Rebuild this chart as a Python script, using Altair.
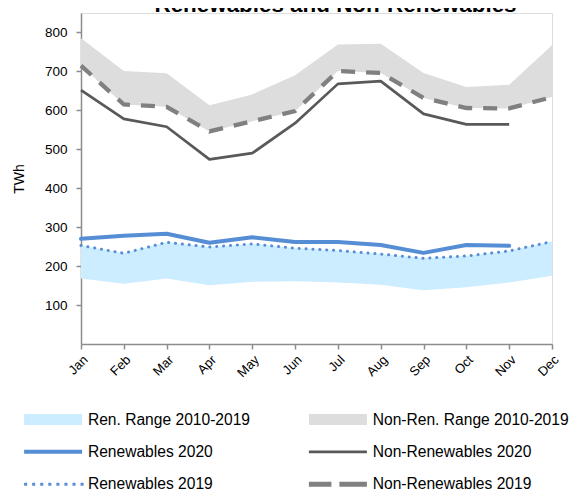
import altair as alt
import pandas as pd

months = ["Jan", "Feb", "Mar", "Apr", "May", "Jun", "Jul", "Aug", "Sep", "Oct", "Nov", "Dec"]

ren_range_low = [168, 155, 168, 151, 160, 161, 158, 152, 138, 146, 158, 175]
ren_range_high = [253, 233, 261, 249, 257, 246, 240, 231, 220, 226, 239, 263]
nonren_range_low = [715, 615, 609, 546, 572, 598, 701, 696, 632, 606, 605, 634]
nonren_range_high = [785, 701, 695, 613, 641, 690, 769, 771, 696, 660, 666, 767]

ren_2020 = [270, 278, 283, 260, 274, 262, 262, 254, 234, 254, 252, None]
ren_2019 = [253, 233, 261, 249, 257, 246, 240, 231, 220, 226, 239, 263]
nonren_2020 = [652, 578, 558, 474, 490, 567, 668, 675, 591, 564, 564, None]
nonren_2019 = [715, 615, 609, 546, 572, 598, 701, 696, 632, 606, 605, 634]

# legend order (column-major: renewables column, then non-renewables column)
series_names = [
    "Ren. Range 2010-2019",
    "Renewables 2020",
    "Renewables 2019",
    "Non-Ren. Range 2010-2019",
    "Non-Renewables 2020",
    "Non-Renewables 2019",
]
series_colors = ["#CCECFF", "#558ED5", "#558ED5", "#DDDDDD", "#595959", "#808080"]

FONT = "Liberation Sans"


def range_df(name, low, high):
    return pd.DataFrame({"month": months, "low": low, "high": high, "series": name})


def line_df(name, vals):
    return pd.DataFrame({"month": months, "value": vals, "series": name})


# ---- legend symbol shapes (custom paths, unit = sqrt(size)/2 px) ----
SYM_SIZE = 121
R = (SYM_SIZE ** 0.5) / 2


def rect(x0, x1, y0, y1):
    return f"M{x0/R:.3f},{y0/R:.3f}H{x1/R:.3f}V{y1/R:.3f}H{x0/R:.3f}Z"


dot_centers = [-27.5 + k * 8.07 for k in range(8)]
shapes = [
    rect(-29, 29, -5.5, 5.5),
    rect(-29, 29, -2, 2),
    "".join(rect(c - 1.5, c + 1.5, -1.5, 1.5) for c in dot_centers),
    rect(-29, 29, -5.5, 5.5),
    rect(-29, 29, -1.4, 1.4),
    rect(-29, -6.5, -2.5, 2.5) + rect(1.5, 29, -2.5, 2.5),
]


def pick(values):
    expr = f"'{values[-1]}'"
    for name, val in reversed(list(zip(series_names[:-1], values[:-1]))):
        expr = f"datum.label === '{name}' ? '{val}' : ({expr})"
    return expr


legend_encode = {
    "symbols": {
        "update": {
            "shape": {"signal": pick(shapes)},
            "fill": {"signal": pick(series_colors)},
            "stroke": {"value": "transparent"},
            "strokeWidth": {"value": 0},
            "opacity": {"value": 1},
        }
    }
}

legend = alt.Legend(
    title=None,
    orient="none",
    legendX=-35.7,
    legendY=398.5,
    columns=2,
    symbolSize=SYM_SIZE,
    symbolStrokeWidth=0,
    labelFont=FONT,
    labelFontSize=15.6,
    labelColor="#000000",
    labelOffset=27,
    labelLimit=400,
    rowPadding=15.5,
    columnPadding=57.8,
)

color_scale = alt.Scale(domain=series_names, range=series_colors)

x_enc = alt.X(
    "month:O",
    sort=months,
    scale=alt.Scale(type="point", padding=0),
    axis=alt.Axis(
        title=None,
        labelAngle=-45,
        labelFont=FONT,
        labelFontSize=13,
        labelColor="#000000",
        labelPadding=4,
        tickSize=5,
        tickColor="#8C8C8C",
        tickWidth=1.5,
        domainColor="#8C8C8C",
        domainWidth=1.5,
    ),
)

y_axis = alt.Axis(
    values=[100, 200, 300, 400, 500, 600, 700, 800],
    title="TWh",
    titleFont=FONT,
    titleFontSize=14,
    titleFontWeight="normal",
    titleColor="#000000",
    titlePadding=18,
    labelFont=FONT,
    labelFontSize=13.5,
    labelColor="#000000",
    labelPadding=9,
    tickSize=5,
    tickColor="#8C8C8C",
    tickWidth=1.5,
    domainColor="#8C8C8C",
    domainWidth=1.5,
    grid=False,
)
y_scale = alt.Scale(domain=[0, 850], nice=False)

ren_area = alt.Chart(range_df(series_names[0], ren_range_low, ren_range_high)).mark_area(opacity=1).encode(
    x=x_enc,
    y=alt.Y("low:Q", scale=y_scale, axis=y_axis),
    y2="high:Q",
    color=alt.Color("series:N", scale=color_scale, legend=legend),
)
nonren_area = alt.Chart(range_df(series_names[3], nonren_range_low, nonren_range_high)).mark_area(opacity=1).encode(
    x=x_enc,
    y=alt.Y("low:Q", scale=y_scale, axis=y_axis),
    y2="high:Q",
    color=alt.Color("series:N", scale=color_scale, legend=legend),
)


def line_layer(name, vals, **mark):
    return alt.Chart(line_df(name, vals)).mark_line(**mark).encode(
        x=x_enc,
        y=alt.Y("value:Q", scale=y_scale, axis=y_axis),
        color=alt.Color("series:N", scale=color_scale, legend=legend),
    )


nonren19 = line_layer(series_names[5], nonren_2019, strokeWidth=4.3, strokeDash=[14, 11])
nonren20 = line_layer(series_names[4], nonren_2020, strokeWidth=2.7, strokeJoin="round")
ren19 = line_layer(series_names[2], ren_2019, strokeWidth=3, strokeDash=[0.1, 6.8], strokeCap="round")
ren20 = line_layer(series_names[1], ren_2020, strokeWidth=4, strokeJoin="round", strokeCap="round")

chart = (
    alt.layer(ren_area, nonren_area, nonren19, nonren20, ren19, ren20)
    .properties(
        width=471,
        height=331,
        title=alt.TitleParams(
            "Renewables and Non-Renewables",
            font=FONT,
            fontSize=22.4,
            fontWeight="bold",
            color="#000000",
            anchor="middle",
            dx=19,
            dy=15,
            offset=-6,
            baseline="alphabetic",
        ),
        padding={"left": 73, "top": 5, "right": 20, "bottom": 146},
        autosize=alt.AutoSizeParams(type="none"),
    )
    .configure_view(stroke=None)
    .configure(background="white")
)

# Vega-Lite supports legend "encode" blocks at run time; inject them into the spec.
_orig_to_dict = chart.to_dict


def _inject(obj):
    if isinstance(obj, dict):
        for k, v in obj.items():
            if k == "legend" and isinstance(v, dict) and "columns" in v:
                v["encode"] = legend_encode
            else:
                _inject(v)
    elif isinstance(obj, list):
        for v in obj:
            _inject(v)


def _to_dict(*args, **kwargs):
    kwargs["validate"] = False
    d = _orig_to_dict(*args, **kwargs)
    _inject(d)
    return d


object.__setattr__(chart, "to_dict", _to_dict)

chart.save("out.html", embed_options={"renderer": "svg", "actions": False})
